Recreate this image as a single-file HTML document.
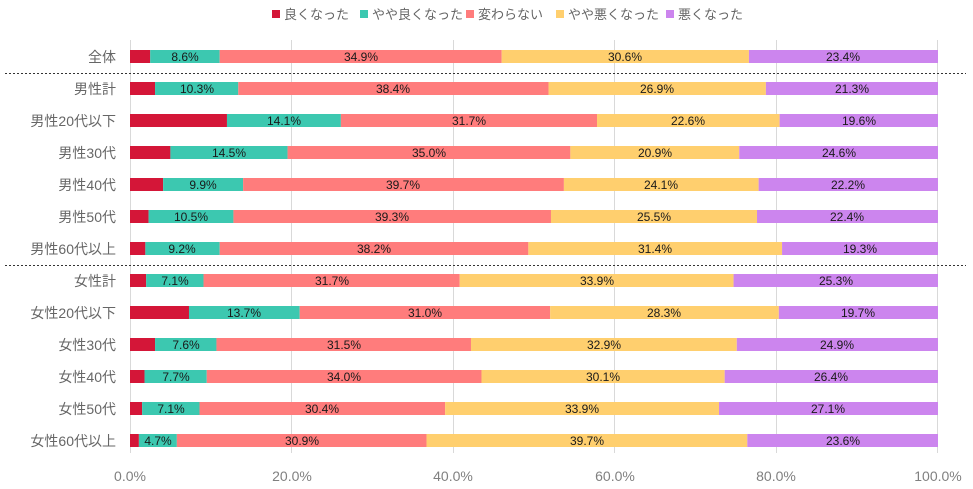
<!DOCTYPE html>
<html><head><meta charset="utf-8"><style>
html,body{margin:0;padding:0;background:#fff}
svg{display:block;font-family:"Liberation Sans","Noto Sans CJK JP",sans-serif}
.c{font-size:14px;fill:#666;text-anchor:end}
.v{font-size:12px;fill:#1a1a1a;text-anchor:middle}
.a{font-size:14px;fill:#808080;text-anchor:middle}
.l{font-size:13px;fill:#666}
</style></head><body>
<svg width="973" height="489" viewBox="0 0 973 489">
<g stroke="#d9d9d9" stroke-width="1">
<line x1="130.5" y1="40" x2="130.5" y2="453"/><line x1="291.5" y1="40" x2="291.5" y2="453"/><line x1="453.5" y1="40" x2="453.5" y2="453"/><line x1="614.5" y1="40" x2="614.5" y2="453"/><line x1="776.5" y1="40" x2="776.5" y2="453"/><line x1="937.5" y1="40" x2="937.5" y2="453"/>
</g>
<g stroke="#333" stroke-width="1" stroke-dasharray="2,2">
<line x1="5" y1="73.5" x2="966" y2="73.5"/><line x1="5" y1="265.5" x2="966" y2="265.5"/>
</g>
<g>
<rect x="272" y="10" width="8" height="8" fill="#d41638"/><text class="l" x="284" y="19">良くなった</text>
<rect x="360" y="10" width="8" height="8" fill="#3cc8b0"/><text class="l" x="372" y="19">やや良くなった</text>
<rect x="466" y="10" width="8" height="8" fill="#ff7c7c"/><text class="l" x="478" y="19">変わらない</text>
<rect x="556" y="10" width="8" height="8" fill="#ffcf6e"/><text class="l" x="568" y="19">やや悪くなった</text>
<rect x="666" y="10" width="8" height="8" fill="#cc85ee"/><text class="l" x="678" y="19">悪くなった</text>
</g>
<svg x="130" y="0" width="808" height="489" viewBox="0 0 100 489" preserveAspectRatio="none">
<g fill="#d41638">
<rect x="0" y="50" width="2.5" height="13"/><rect x="0" y="82" width="3.1" height="13"/><rect x="0" y="114" width="12" height="13"/><rect x="0" y="146" width="5" height="13"/><rect x="0" y="178" width="4.1" height="13"/><rect x="0" y="210" width="2.3" height="13"/><rect x="0" y="242" width="1.9" height="13"/><rect x="0" y="274" width="2" height="13"/><rect x="0" y="306" width="7.3" height="13"/><rect x="0" y="338" width="3.1" height="13"/><rect x="0" y="370" width="1.8" height="13"/><rect x="0" y="402" width="1.5" height="13"/><rect x="0" y="434" width="1.1" height="13"/>
</g>
<g fill="#3cc8b0">
<rect x="2.5" y="50" width="8.6" height="13"/><rect x="3.1" y="82" width="10.3" height="13"/><rect x="12" y="114" width="14.1" height="13"/><rect x="5" y="146" width="14.5" height="13"/><rect x="4.1" y="178" width="9.9" height="13"/><rect x="2.3" y="210" width="10.5" height="13"/><rect x="1.9" y="242" width="9.2" height="13"/><rect x="2" y="274" width="7.1" height="13"/><rect x="7.3" y="306" width="13.7" height="13"/><rect x="3.1" y="338" width="7.6" height="13"/><rect x="1.8" y="370" width="7.7" height="13"/><rect x="1.5" y="402" width="7.1" height="13"/><rect x="1.1" y="434" width="4.7" height="13"/>
</g>
<g fill="#ff7c7c">
<rect x="11.1" y="50" width="34.9" height="13"/><rect x="13.4" y="82" width="38.4" height="13"/><rect x="26.1" y="114" width="31.7" height="13"/><rect x="19.5" y="146" width="35" height="13"/><rect x="14" y="178" width="39.7" height="13"/><rect x="12.8" y="210" width="39.3" height="13"/><rect x="11.1" y="242" width="38.2" height="13"/><rect x="9.1" y="274" width="31.7" height="13"/><rect x="21" y="306" width="31" height="13"/><rect x="10.7" y="338" width="31.5" height="13"/><rect x="9.5" y="370" width="34" height="13"/><rect x="8.6" y="402" width="30.4" height="13"/><rect x="5.8" y="434" width="30.9" height="13"/>
</g>
<g fill="#ffcf6e">
<rect x="46" y="50" width="30.6" height="13"/><rect x="51.8" y="82" width="26.9" height="13"/><rect x="57.8" y="114" width="22.6" height="13"/><rect x="54.5" y="146" width="20.9" height="13"/><rect x="53.7" y="178" width="24.1" height="13"/><rect x="52.1" y="210" width="25.5" height="13"/><rect x="49.3" y="242" width="31.4" height="13"/><rect x="40.8" y="274" width="33.9" height="13"/><rect x="52" y="306" width="28.3" height="13"/><rect x="42.2" y="338" width="32.9" height="13"/><rect x="43.5" y="370" width="30.1" height="13"/><rect x="39" y="402" width="33.9" height="13"/><rect x="36.7" y="434" width="39.7" height="13"/>
</g>
<g fill="#cc85ee">
<rect x="76.6" y="50" width="23.4" height="13"/><rect x="78.7" y="82" width="21.3" height="13"/><rect x="80.4" y="114" width="19.6" height="13"/><rect x="75.4" y="146" width="24.6" height="13"/><rect x="77.8" y="178" width="22.2" height="13"/><rect x="77.6" y="210" width="22.4" height="13"/><rect x="80.7" y="242" width="19.3" height="13"/><rect x="74.7" y="274" width="25.3" height="13"/><rect x="80.3" y="306" width="19.7" height="13"/><rect x="75.1" y="338" width="24.9" height="13"/><rect x="73.6" y="370" width="26.4" height="13"/><rect x="72.9" y="402" width="27.1" height="13"/><rect x="76.4" y="434" width="23.6" height="13"/>
</g>
</svg>
<g>
<text class="c" x="116" y="62">全体</text>
<text class="c" x="116" y="94">男性計</text>
<text class="c" x="116" y="126">男性20代以下</text>
<text class="c" x="116" y="158">男性30代</text>
<text class="c" x="116" y="190">男性40代</text>
<text class="c" x="116" y="222">男性50代</text>
<text class="c" x="116" y="254">男性60代以上</text>
<text class="c" x="116" y="286">女性計</text>
<text class="c" x="116" y="318">女性20代以下</text>
<text class="c" x="116" y="350">女性30代</text>
<text class="c" x="116" y="382">女性40代</text>
<text class="c" x="116" y="414">女性50代</text>
<text class="c" x="116" y="446">女性60代以上</text>
</g>
<g>
<text class="v" x="185" y="61">8.6%</text><text class="v" x="361" y="61">34.9%</text><text class="v" x="625" y="61">30.6%</text><text class="v" x="843" y="61">23.4%</text>
<text class="v" x="197" y="93">10.3%</text><text class="v" x="393" y="93">38.4%</text><text class="v" x="657" y="93">26.9%</text><text class="v" x="852" y="93">21.3%</text>
<text class="v" x="284" y="125">14.1%</text><text class="v" x="469" y="125">31.7%</text><text class="v" x="688" y="125">22.6%</text><text class="v" x="859" y="125">19.6%</text>
<text class="v" x="229" y="157">14.5%</text><text class="v" x="429" y="157">35.0%</text><text class="v" x="655" y="157">20.9%</text><text class="v" x="839" y="157">24.6%</text>
<text class="v" x="203" y="189">9.9%</text><text class="v" x="403" y="189">39.7%</text><text class="v" x="661" y="189">24.1%</text><text class="v" x="848" y="189">22.2%</text>
<text class="v" x="191" y="221">10.5%</text><text class="v" x="392" y="221">39.3%</text><text class="v" x="654" y="221">25.5%</text><text class="v" x="847" y="221">22.4%</text>
<text class="v" x="182" y="253">9.2%</text><text class="v" x="374" y="253">38.2%</text><text class="v" x="655" y="253">31.4%</text><text class="v" x="860" y="253">19.3%</text>
<text class="v" x="175" y="285">7.1%</text><text class="v" x="332" y="285">31.7%</text><text class="v" x="597" y="285">33.9%</text><text class="v" x="836" y="285">25.3%</text>
<text class="v" x="244" y="317">13.7%</text><text class="v" x="425" y="317">31.0%</text><text class="v" x="664" y="317">28.3%</text><text class="v" x="858" y="317">19.7%</text>
<text class="v" x="186" y="349">7.6%</text><text class="v" x="344" y="349">31.5%</text><text class="v" x="604" y="349">32.9%</text><text class="v" x="837" y="349">24.9%</text>
<text class="v" x="176" y="381">7.7%</text><text class="v" x="344" y="381">34.0%</text><text class="v" x="603" y="381">30.1%</text><text class="v" x="831" y="381">26.4%</text>
<text class="v" x="171" y="413">7.1%</text><text class="v" x="322" y="413">30.4%</text><text class="v" x="582" y="413">33.9%</text><text class="v" x="828" y="413">27.1%</text>
<text class="v" x="158" y="445">4.7%</text><text class="v" x="302" y="445">30.9%</text><text class="v" x="587" y="445">39.7%</text><text class="v" x="843" y="445">23.6%</text>
</g>
<g>
<text class="a" x="130" y="481">0.0%</text><text class="a" x="292" y="481">20.0%</text><text class="a" x="453" y="481">40.0%</text><text class="a" x="615" y="481">60.0%</text><text class="a" x="776" y="481">80.0%</text><text class="a" x="938" y="481">100.0%</text>
</g>
</svg>
</body></html>
